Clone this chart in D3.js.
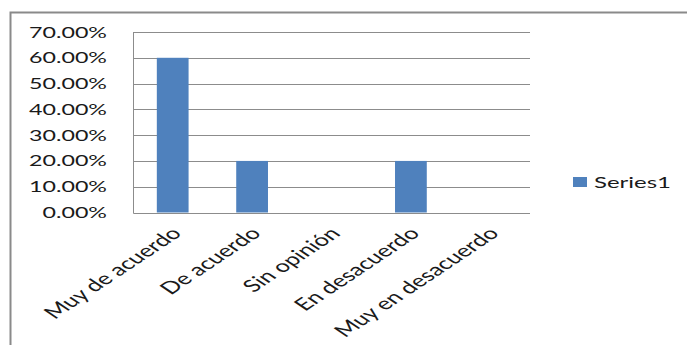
<!DOCTYPE html>
<html>
<head>
<meta charset="utf-8">
<script src="https://cdn.jsdelivr.net/npm/d3@7"></script>
<style>
  html, body { margin: 0; padding: 0; background: #fff; }
  svg { display: block; }
  text { font-family: Lato, "Open Sans", sans-serif; fill: #1a1a1a; }
</style>
</head>
<body>
<svg id="chart" width="687" height="345"></svg>
<script>
// Survey responses (share of respondents per answer)
const categories = ["Muy de acuerdo", "De acuerdo", "Sin opinión", "En desacuerdo", "Muy en desacuerdo"];
const values = [0.60, 0.20, 0.00, 0.20, 0.00];
const yTicks = [0, 0.1, 0.2, 0.3, 0.4, 0.5, 0.6, 0.7];
const seriesName = "Series1";

const svg = d3.select("#chart");
const W = 687, H = 345;
const plot = { left: 133, right: 530, top: 32, bottom: 212.5 };
const stretch = 1.5;   // text is drawn horizontally widened
const gridColor = "#8c8c8c";
const barColor = "#4f81bd";

// Outer chart frame (top and left edges)
svg.append("path")
  .attr("d", `M10.5,${H} V12.5 H${W}`)
  .attr("fill", "none")
  .attr("stroke", "#8a8a8a")
  .attr("stroke-width", 2);

const x = d3.scaleBand()
  .domain(categories)
  .range([plot.left, plot.right])
  .paddingInner(0.6)
  .paddingOuter(0.3);

const y = d3.scaleLinear()
  .domain([0, 0.7])
  .range([plot.bottom, plot.top]);

// Gridlines
svg.append("g")
  .selectAll("line")
  .data(yTicks.filter(d => d > 0))
  .join("line")
  .attr("x1", plot.left)
  .attr("x2", plot.right)
  .attr("y1", d => Math.round(y(d)) + 0.5)
  .attr("y2", d => Math.round(y(d)) + 0.5)
  .attr("stroke", gridColor)
  .attr("stroke-width", 1);

// Bars
svg.append("g")
  .selectAll("rect")
  .data(categories.map((c, i) => ({ c, v: values[i] })))
  .join("rect")
  .attr("x", d => x(d.c))
  .attr("width", x.bandwidth())
  .attr("y", d => y(d.v))
  .attr("height", d => y(0) - y(d.v))
  .attr("fill", barColor);

// Axis lines
svg.append("path")
  .attr("d", `M${plot.left + 0.5},${plot.top} V${Math.round(plot.bottom) + 0.5} H${plot.right}`)
  .attr("fill", "none")
  .attr("stroke", gridColor)
  .attr("stroke-width", 1);

// Y tick labels
const fmt = d3.format(".2%");
svg.append("g")
  .selectAll("text")
  .data(yTicks)
  .join("text")
  .attr("transform", d => `translate(107,${y(d) + 5.5}) scale(${stretch},1)`)
  .attr("text-anchor", "end")
  .attr("font-size", 15.5)
  .text(d => fmt(d));

// Category labels, rotated
svg.append("g")
  .selectAll("text")
  .data(categories)
  .join("text")
  .attr("transform", d => `translate(${x(d) + x.bandwidth() / 2 + 10},${plot.bottom + 22}) scale(${stretch},1) rotate(-45)`)
  .attr("text-anchor", "end")
  .attr("font-size", 17)
  .text(d => d);

// Legend
const legend = svg.append("g").attr("transform", "translate(573,177)");
legend.append("rect")
  .attr("width", 14)
  .attr("height", 10)
  .attr("fill", barColor);
legend.append("text")
  .attr("transform", `translate(21,11) scale(${stretch},1)`)
  .attr("font-size", 16)
  .text(seriesName);
</script>
</body>
</html>
